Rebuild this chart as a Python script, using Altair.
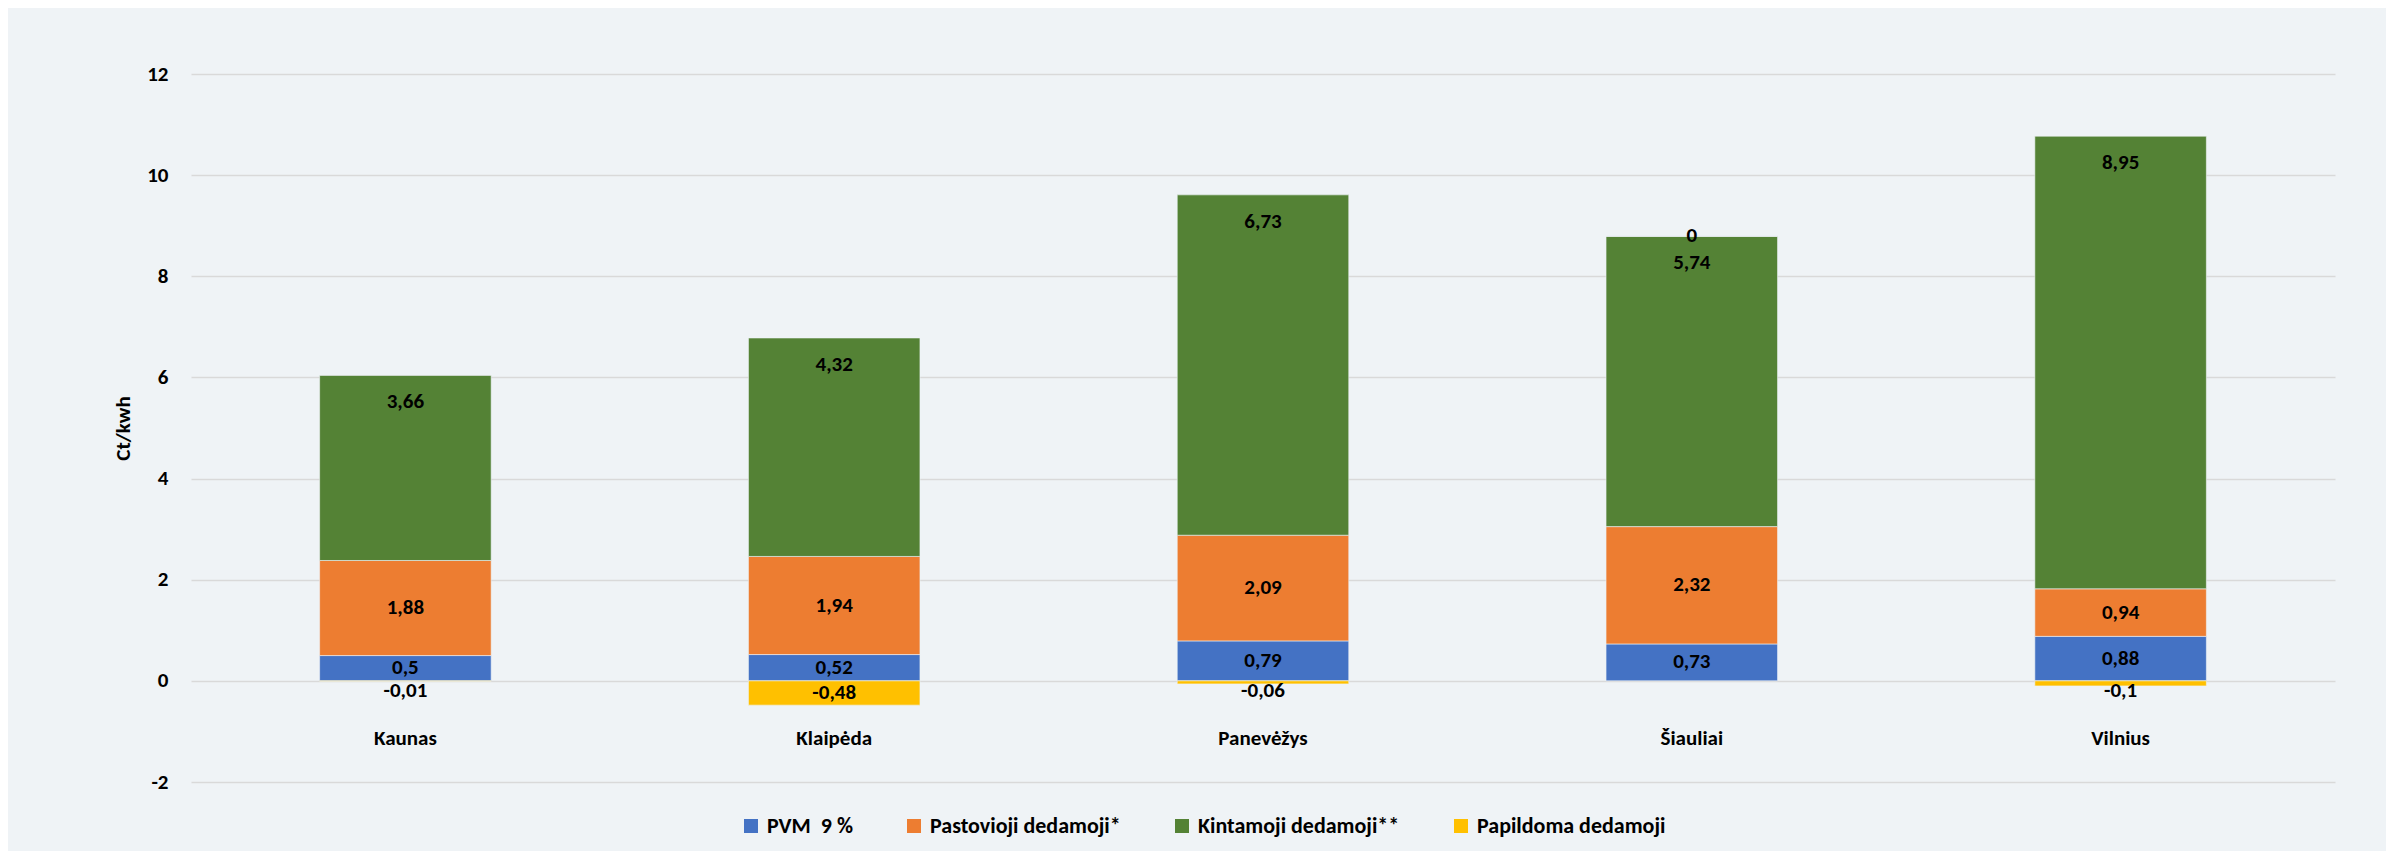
import altair as alt
import pandas as pd

cities = ["Kaunas", "Klaipėda", "Panevėžys", "Šiauliai", "Vilnius"]
series = ["PVM \u00a09 %", "Pastovioji dedamoji*", "Kintamoji dedamoji**", "Papildoma dedamoji"]
pvm = [0.5, 0.52, 0.79, 0.73, 0.88]
pastovioji = [1.88, 1.94, 2.09, 2.32, 0.94]
kintamoji = [3.66, 4.32, 6.73, 5.74, 8.95]
papildoma = [-0.01, -0.48, -0.06, 0, -0.1]
colors = ["#4472C4", "#ED7D31", "#548235", "#FFC000"]
y_ticks = [-2, 0, 2, 4, 6, 8, 10, 12]

rows = []
for si, (name, vals) in enumerate(zip(series, [pvm, pastovioji, kintamoji, papildoma])):
    for city, v in zip(cities, vals):
        rows.append({
            "city": city,
            "series": name,
            "value": v,
            "order": si,
            "label": f"{v:g}".replace(".", ","),
        })
df = pd.DataFrame(rows)

FONT = "Carlito, Lato, 'Open Sans', sans-serif"
FS = 21

x_enc = alt.X(
    "city:N",
    sort=cities,
    scale=alt.Scale(paddingInner=0.6, paddingOuter=0.3),
    axis=alt.Axis(
        title=None, orient="bottom", offset=-44, domain=False, ticks=False,
        labelPadding=0, labelBaseline="middle", labelAngle=0, grid=False,
        labelFontSize=FS, labelFontWeight="bold", labelColor="#000000", labelFont=FONT,
    ),
)
y_scale = alt.Scale(domain=[-2, 12], nice=False, zero=False)

bars = alt.Chart(df).mark_bar(stroke="#EFF3F6", strokeWidth=0.6).encode(
    x=x_enc,
    y=alt.Y(
        "value:Q",
        stack="zero",
        scale=y_scale,
        axis=alt.Axis(
            title="Ct/kwh", values=y_ticks, domain=False, ticks=False, tickSize=0,
            labelPadding=23, labelExpr="'' + datum.value",
            labelFontSize=FS, labelFontWeight="bold", labelColor="#000000", labelFont=FONT,
            grid=True, gridColor="#D9D9D9", gridWidth=1.6,
            titleFontSize=FS, titleFontWeight="bold", titleColor="#000000", titleFont=FONT,
            titleX=-62, titleY=354, titleAngle=-90, titleBaseline="alphabetic",
        ),
    ),
    color=alt.Color(
        "series:N",
        scale=alt.Scale(domain=series, range=colors),
        legend=alt.Legend(
            title=None, orient="none", legendX=549, legendY=741, direction="horizontal",
            symbolType="square", symbolSize=196, symbolStrokeWidth=0,
            labelFontSize=22, labelFontWeight="bold", labelColor="#000000", labelFont=FONT,
            labelOffset=5, columnPadding=50, labelLimit=400, padding=0,
        ),
    ),
    order=alt.Order("order:Q"),
)

stacked = alt.Chart(df).transform_stack(
    stack="value", groupby=["city"], as_=["y0", "y1"],
    sort=[alt.SortField("order", order="ascending")], offset="zero",
).transform_calculate(
    mid="datum.value < 0 ? min((datum.y0 + datum.y1) / 2, -0.21) : (datum.y0 + datum.y1) / 2"
)

text_mid = stacked.transform_filter(
    alt.datum.series != series[2]
).mark_text(fontSize=FS, fontWeight="bold", color="#000000", font=FONT, baseline="middle").encode(
    x=alt.X("city:N", sort=cities),
    y=alt.Y("mid:Q", scale=y_scale),
    text="label:N",
)

text_top = stacked.transform_filter(
    alt.datum.series == series[2]
).mark_text(fontSize=FS, fontWeight="bold", color="#000000", font=FONT, baseline="middle", dy=27).encode(
    x=alt.X("city:N", sort=cities),
    y=alt.Y("y1:Q", scale=y_scale),
    text="label:N",
)

chart = alt.layer(bars, text_mid, text_top).properties(
    width=2144, height=708,
    autosize=alt.AutoSizeParams(type="none"),
    padding={"left": 183, "top": 66, "right": 51, "bottom": 69},
).configure(
    background="#EFF3F6",
    font=FONT,
).configure_view(stroke=None)

chart.save("out.html", embed_options={"renderer": "svg", "actions": False})
